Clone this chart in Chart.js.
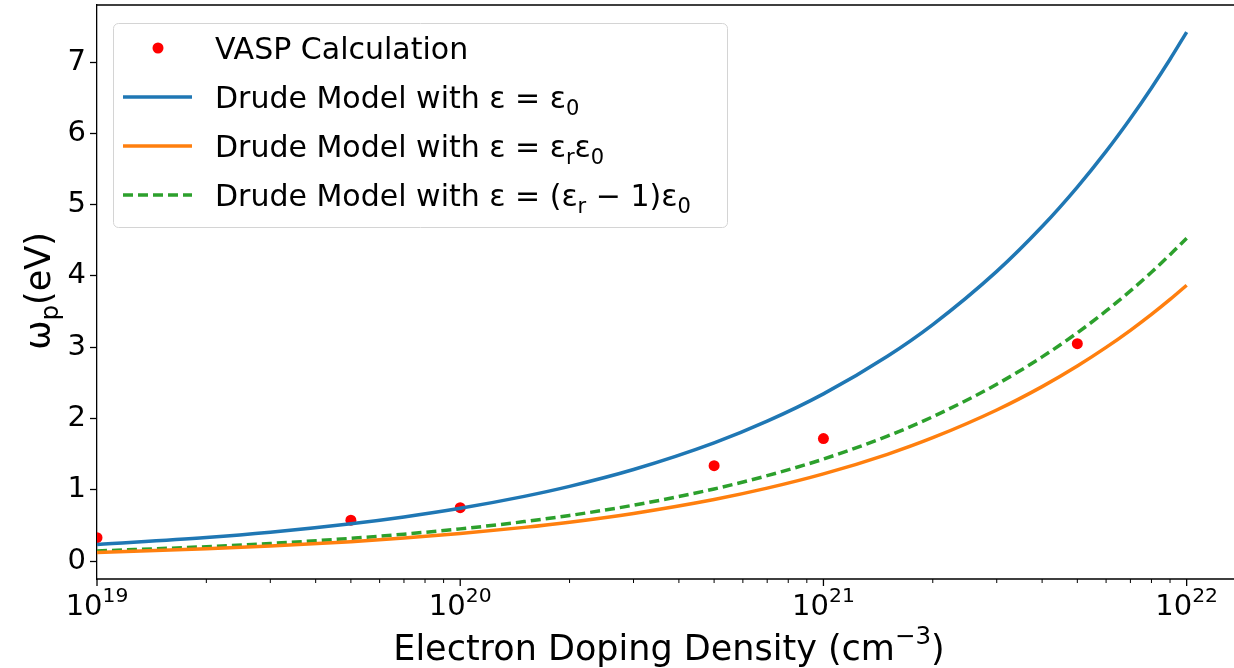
<!DOCTYPE html>
<html>
<head>
<meta charset="utf-8">
<script src="https://cdn.jsdelivr.net/npm/chart.js@4.4.1/dist/chart.umd.min.js"></script>
<style>
html, body { margin: 0; padding: 0; background: #fff; overflow: hidden; }
canvas { display: block; }
</style>
</head>
<body>
<canvas id="plasmaChart" width="1234" height="668"></canvas>
<script>
const densities = [1e19, 2e19, 3e19, 5e19, 7e19, 1e20, 1.5e20, 2e20, 3e20, 5e20, 7e20,
    1e21, 1.5e21, 2e21, 3e21, 4e21, 5e21, 6e21, 7e21, 8e21, 9e21, 1e22];
// eps = eps0
const drudeVacuum = [0.235, 0.332, 0.406, 0.525, 0.621, 0.742, 0.909, 1.049, 1.285, 1.659, 1.963,
    2.346, 2.874, 3.318, 4.064, 4.693, 5.247, 5.747, 6.208, 6.637, 7.039, 7.42];
// eps = eps_r eps0
const drudeRelative = [0.122, 0.173, 0.212, 0.274, 0.324, 0.387, 0.474, 0.547, 0.670, 0.865, 1.024,
    1.224, 1.499, 1.731, 2.120, 2.448, 2.737, 2.998, 3.238, 3.461, 3.671, 3.87];
// eps = (eps_r - 1) eps0
const drudeShifted = [0.143, 0.203, 0.248, 0.320, 0.379, 0.453, 0.555, 0.641, 0.785, 1.013, 1.199,
    1.432, 1.754, 2.026, 2.481, 2.865, 3.203, 3.509, 3.790, 4.052, 4.298, 4.53];

// vasp points
const vaspDensity = [1e19, 5e19, 1e20, 5e20, 1e21, 5e21];
const vaspOmega = [0.33, 0.575, 0.75, 1.34, 1.72, 3.05];

// axis ticks
const yTicks = [0, 1, 2, 3, 4, 5, 6, 7];
const xMajorTicks = [1e19, 1e20, 1e21, 1e22];
const xTickExponents = ['19', '20', '21', '22'];

const FONT = '"DejaVu Sans", "Liberation Sans", sans-serif';

function toPoints(xs, ys) {
    return xs.map((x, i) => ({ x: x, y: ys[i] }));
}

// rich text: parts are [text, 'sub' | 'sup' | undefined]
function richWidth(ctx, parts, size) {
    let w = 0;
    parts.forEach(p => {
        ctx.font = (p[1] ? size * 0.7 : size) + 'px ' + FONT;
        w += ctx.measureText(p[0]).width;
    });
    return w;
}

function drawRich(ctx, parts, x, y, size, align) {
    let cx = align === 'center' ? x - richWidth(ctx, parts, size) / 2 : x;
    ctx.textAlign = 'left';
    ctx.textBaseline = 'alphabetic';
    parts.forEach(p => {
        const s = p[1] ? size * 0.7 : size;
        let dy = 0;
        if (p[1] === 'sub') dy = size * 0.22;
        if (p[1] === 'sup') dy = -size * 0.45;
        ctx.font = s + 'px ' + FONT;
        ctx.fillText(p[0], cx, y + dy);
        cx += ctx.measureText(p[0]).width;
    });
}

const legendParts = [
    [['VASP Calculation']],
    [['Drude Model with ε = ε'], ['0', 'sub']],
    [['Drude Model with ε = ε'], ['r', 'sub'], ['ε'], ['0', 'sub']],
    [['Drude Model with ε = (ε'], ['r', 'sub'], [' − 1)ε'], ['0', 'sub']]
];

// draws spines, x tick marks/labels, axis titles and legend
const decorPlugin = {
    id: 'decor',
    afterDraw(chart) {
        const ctx = chart.ctx;
        const area = chart.chartArea;
        const xs = chart.scales.x;
        ctx.save();
        ctx.strokeStyle = '#000';
        ctx.fillStyle = '#000';
        ctx.lineWidth = 1.3;

        // top and bottom spines (right one is off the picture)
        ctx.beginPath();
        ctx.moveTo(area.left, area.top);
        ctx.lineTo(area.right, area.top);
        ctx.moveTo(area.left, area.bottom);
        ctx.lineTo(area.right, area.bottom);
        ctx.stroke();

        // minor ticks
        ctx.lineWidth = 1;
        for (let d = 19; d <= 21; d++) {
            for (let m = 2; m <= 9; m++) {
                const px = xs.getPixelForValue(m * Math.pow(10, d));
                ctx.beginPath();
                ctx.moveTo(px, area.bottom);
                ctx.lineTo(px, area.bottom + 4);
                ctx.stroke();
            }
        }
        // major ticks + labels
        ctx.lineWidth = 1.3;
        xMajorTicks.forEach((v, i) => {
            const px = xs.getPixelForValue(v);
            ctx.beginPath();
            ctx.moveTo(px, area.bottom);
            ctx.lineTo(px, area.bottom + 7);
            ctx.stroke();
            drawRich(ctx, [['10'], [xTickExponents[i], 'sup']], px, 615, 29, 'center');
        });

        // axis titles
        drawRich(ctx, [['Electron Doping Density (cm'], ['−3', 'sup'], [')']], 669, 660, 35, 'center');
        ctx.save();
        ctx.translate(50, 291);
        ctx.rotate(-Math.PI / 2);
        drawRich(ctx, [['ω'], ['p', 'sub'], ['(eV)']], 0, 0, 35, 'center');
        ctx.restore();

        // legend box
        ctx.fillStyle = 'rgba(255,255,255,0.8)';
        ctx.strokeStyle = '#d4d4d4';
        ctx.lineWidth = 1;
        ctx.beginPath();
        ctx.roundRect(113.5, 23.5, 614, 204, 5);
        ctx.fill();
        ctx.stroke();

        const rows = [48, 97, 146, 195];
        const order = [3, 0, 1, 2];
        rows.forEach((ry, i) => {
            const ds = chart.data.datasets[order[i]];
            if (i === 0) {
                ctx.fillStyle = ds.backgroundColor;
                ctx.beginPath();
                ctx.arc(158, ry, 5.5, 0, Math.PI * 2);
                ctx.fill();
            } else {
                ctx.strokeStyle = ds.borderColor;
                ctx.lineWidth = ds.borderWidth;
                ctx.setLineDash(ds.borderDash || []);
                ctx.beginPath();
                ctx.moveTo(123, ry);
                ctx.lineTo(192, ry);
                ctx.stroke();
                ctx.setLineDash([]);
            }
            ctx.fillStyle = '#000';
            drawRich(ctx, legendParts[i], 215, ry + 11, 30, 'left');
        });
        ctx.restore();
    }
};

function curve(label, ys, color, dash) {
    return {
        label: label,
        data: toPoints(densities, ys),
        showLine: true,
        borderColor: color,
        backgroundColor: color,
        borderWidth: 3.5,
        borderDash: dash,
        pointRadius: 0,
        cubicInterpolationMode: 'monotone',
        clip: 0
    };
}

const ctx = document.getElementById('plasmaChart').getContext('2d');
const plasmaChart = new Chart(ctx, {
    type: 'scatter',
    data: {
        datasets: [
            curve('Drude Model with ε = ε0', drudeVacuum, '#1f77b4'),
            curve('Drude Model with ε = εrε0', drudeRelative, '#ff7f0e'),
            curve('Drude Model with ε = (εr − 1)ε0', drudeShifted, '#2ca02c', [10, 5]),
            {
                label: 'VASP Calculation',
                data: toPoints(vaspDensity, vaspOmega),
                backgroundColor: '#ff0000',
                borderColor: '#ff0000',
                pointRadius: 5.5,
                borderWidth: 0,
                clip: 0
            }
        ]
    },
    options: {
        responsive: false,
        animation: false,
        // no extra padding for point overflow, plot box is fixed
        layout: { autoPadding: false, padding: { top: 5, right: 0, left: 0, bottom: 0 } },
        plugins: {
            legend: { display: false },
            tooltip: { enabled: false }
        },
        scales: {
            x: {
                type: 'logarithmic',
                min: 1e19,
                max: 1.35e22,
                grid: { display: false },
                border: { display: false },
                ticks: { display: false },
                afterFit: s => { s.height = 89; s.paddingLeft = 0; s.paddingRight = 0; }
            },
            y: {
                min: -0.25,
                max: 7.8,
                afterBuildTicks: s => { s.ticks = yTicks.map(v => ({ value: v })); },
                grid: { drawOnChartArea: false, tickLength: 7, tickColor: '#000', tickWidth: 1.3 },
                border: { display: true, color: '#000', width: 1.3 },
                ticks: {
                    color: '#000',
                    padding: 4,
                    font: { family: FONT, size: 29 },
                    callback: v => String(v)
                },
                afterFit: s => { s.width = 97; s.paddingTop = 0; s.paddingBottom = 0; }
            }
        }
    },
    plugins: [decorPlugin]
});
</script>
</body>
</html>
